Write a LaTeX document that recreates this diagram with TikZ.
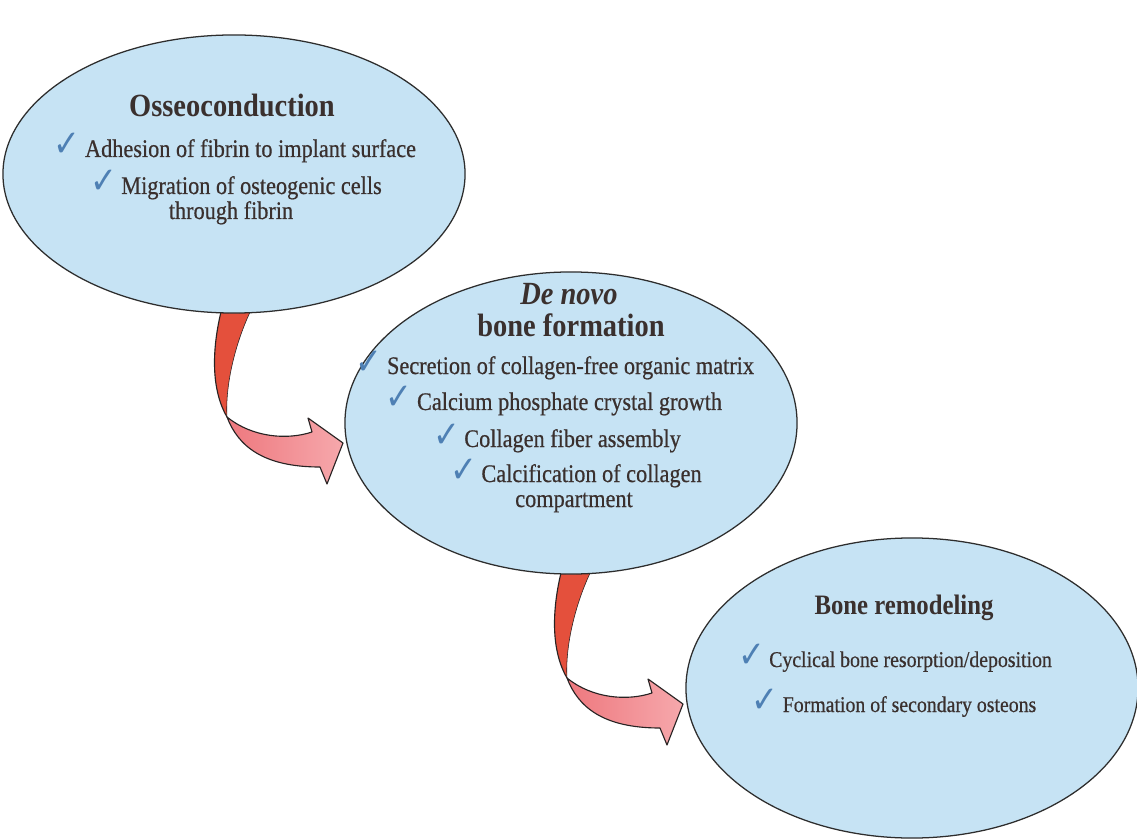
\documentclass[tikz,border=0pt]{standalone}
\usepackage{fontspec}
\usepackage{graphicx}
\setmainfont{Liberation Serif}[FakeStretch=0.88]
\newfontfamily\itmfont{Liberation Serif}[FakeStretch=0.88, FakeBold=0.6]
\newfontfamily\tickfont{DejaVu Sans}
\usetikzlibrary{shapes.geometric}
\definecolor{stagefill}{RGB}{198,227,244}
\definecolor{stageline}{RGB}{45,45,45}
\definecolor{inkbrown}{RGB}{58,48,46}
\definecolor{tickblue}{RGB}{78,128,180}
\definecolor{shaftred}{RGB}{228,80,60}
\definecolor{headpink}{RGB}{238,120,126}
\definecolor{headlight}{RGB}{246,168,172}
\definecolor{arrline}{RGB}{40,35,35}
\tikzset{
  stage/.style ={ellipse, draw=stageline, line width=0.9pt, fill=stagefill, inner sep=0pt, outer sep=0pt},
  ttl/.style   ={font=\fontsize{23}{27}\selectfont\bfseries, text=inkbrown, inner sep=0pt, anchor=base},
  ttls/.style  ={ttl, font=\fontsize{20}{24}\selectfont\bfseries},
  itm/.style   ={font=\itmfont\fontsize{18}{22}\selectfont, text=inkbrown, inner sep=0pt, anchor=base},
  itms/.style  ={itm, font=\itmfont\fontsize{16}{20}\selectfont},
  arrback/.style={fill=shaftred},
  arrfront/.style={left color=headpink, right color=headlight},
  arredge/.style={draw=arrline, line width=0.8pt, line join=round},
}
\newcommand\tick{{\tickfont\fontsize{24}{24}\selectfont\color{tickblue}\scalebox{0.95}[1.1]{✓}}\hspace{3pt}}
% bent ribbon arrow, origin at top left of its shaft
\newcommand\bentarrow[1]{%
  \begin{scope}[shift={#1}]
    \fill[arrback] (0,-12) .. controls (-10,25) and (-14,70) .. (4,101)
      .. controls (2,70) and (12,25) .. (31,-12) -- cycle;
    \draw[arredge] (0,-12) .. controls (-10,25) and (-14,70) .. (4,101);
    \draw[draw=arrline, line width=0.4pt] (4,101) .. controls (2,70) and (12,25) .. (31,-12);
    \path[arrfront] (4,101) .. controls (15,130) and (40,151) .. (97,151)
      -- (104,168) -- (120,127) -- (85,102) -- (89,116)
      .. controls (65,124) and (30,122) .. (4,101) -- cycle;
    \draw[arredge] (4,101) .. controls (15,130) and (40,151) .. (97,151)
      -- (104,168) -- (120,127) -- (85,102) -- (89,116)
      .. controls (65,124) and (30,122) .. (4,101) -- cycle;
  \end{scope}}

\begin{document}
\begin{tikzpicture}[x=0.025cm,y=-0.025cm]
  \fill[white] (0,0) rectangle (1137,839);
  \useasboundingbox (0,0) rectangle (1137,839);
  % arrows go under the ellipses
  \bentarrow{(223,316)}
  \bentarrow{(563,577)}
  % the three stages
  \node[stage, minimum width=11.55cm, minimum height=6.95cm] (osseo) at (234,174) {};
  \node[stage, minimum width=11.3cm, minimum height=7.55cm] (denovo) at (571,423) {};
  \node[stage, minimum width=11.3cm, minimum height=7.5cm] (remod) at (912,688) {};
  % osseoconduction
  \node[ttl] (osseot) at (232,117) {Osseoconduction};
  \node[itm] (osseoa) at (235,157) {\tick Adhesion of fibrin to implant surface};
  \node[itm] (osseob) at (236,194) {\tick Migration of osteogenic cells};
  \node[itm] (osseoc) at (231,219) {through fibrin};
  % de novo bone formation
  \node[ttl] (denovot) at (569,305) {\textit{De novo}};
  \node[ttl] (denovou) at (571,337) {bone formation};
  \node[itm] (denovoa) at (555,374) {\tick Secretion of collagen-free organic matrix};
  \node[itm] (denovob) at (554,410) {\tick Calcium phosphate crystal growth};
  \node[itm] (denovoc) at (557,447) {\tick Collagen fiber assembly};
  \node[itm] (denovod) at (576,482) {\tick Calcification of collagen};
  \node[itm] (denovoe) at (574,507) {compartment};
  % bone remodeling
  \node[ttls] (remodt) at (904,614) {Bone remodeling};
  \node[itms] (remoda) at (895,667) {\tick Cyclical bone resorption/deposition};
  \node[itms] (remodb) at (894,712) {\tick Formation of secondary osteons};
\end{tikzpicture}
\end{document}
